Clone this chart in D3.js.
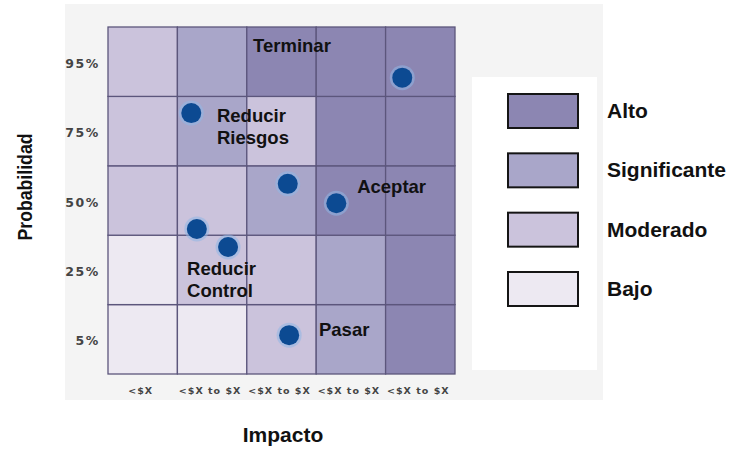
<!DOCTYPE html>
<html>
<head>
<meta charset="utf-8">
<script src="https://cdn.jsdelivr.net/npm/d3@7"></script>
<style>
  html, body { margin: 0; padding: 0; background: #ffffff; }
  svg { display: block; }
</style>
</head>
<body>
<svg id="chart" width="732" height="449"></svg>
<script>
// ---------------- data ----------------
const probLabels = ["5%", "25%", "50%", "75%", "95%"];           // bottom -> top
const impactLabels = ["<$X", "<$X to $X", "<$X to $X", "<$X to $X", "<$X to $X"];
const levels = ["Alto", "Significante", "Moderado", "Bajo"];
// level of each cell, rows from 5% (bottom) to 95% (top), columns left -> right
const cellRow5  = ["Bajo", "Bajo", "Moderado", "Significante", "Alto"];
const cellRow25 = ["Bajo", "Moderado", "Moderado", "Significante", "Alto"];
const cellRow50 = ["Moderado", "Moderado", "Significante", "Alto", "Alto"];
const cellRow75 = ["Moderado", "Significante", "Moderado", "Alto", "Alto"];
const cellRow95 = ["Moderado", "Significante", "Alto", "Alto", "Alto"];
// risk points (impact / probability in cell units, 0..5)
const riskImpact = [4.24, 1.20, 2.59, 3.29, 1.28, 1.73, 2.61];
const riskProb   = [4.27, 3.76, 2.74, 2.46, 2.09, 1.83, 0.56];
// strategy annotations
const noteText = [["Terminar"], ["Reducir", "Riesgos"], ["Aceptar"], ["Reducir", "Control"], ["Pasar"]];
const noteImpact = [2.09, 1.57, 3.59, 1.14, 3.04];
const noteProb   = [4.64, 3.63, 2.61, 1.43, 0.55];
const yTitle = "Probabilidad";
const xTitle = "Impacto";

// ---------------- styles ----------------
const levelColor = d3.scaleOrdinal()
  .domain(levels)
  .range(["#8c86b2", "#a9a6c9", "#cbc3dc", "#ede9f2"]);
const gridColor = "#5c567c";
const boldFont = "'Liberation Sans', Arial, sans-serif";
const tickFont = "'DejaVu Sans', Verdana, sans-serif";

const svg = d3.select("#chart");

// background panel + legend panel
svg.append("rect").attr("x", 65).attr("y", 4).attr("width", 538).attr("height", 396).attr("fill", "#f4f4f4");
svg.append("rect").attr("x", 472).attr("y", 77).attr("width", 125).attr("height", 293).attr("fill", "#ffffff");

// scales
const x = d3.scaleLinear().domain([0, 5]).range([108, 455]);
const y = d3.scaleLinear().domain([0, 5]).range([374, 27]);
const xBand = d3.scaleBand().domain(d3.range(5)).range([108, 455]);
const yBand = d3.scaleBand().domain(d3.range(5)).range([374, 27]);

// cells
const cellRows = [cellRow5, cellRow25, cellRow50, cellRow75, cellRow95];
const cells = [];
cellRows.forEach((row, r) => row.forEach((lvl, c) => cells.push({ r, c, lvl })));

svg.append("g").selectAll("rect").data(cells).join("rect")
  .attr("x", d => x(d.c))
  .attr("y", d => y(d.r + 1))
  .attr("width", d => x(d.c + 1) - x(d.c))
  .attr("height", d => y(d.r) - y(d.r + 1))
  .attr("fill", d => levelColor(d.lvl))
  .attr("stroke", gridColor)
  .attr("stroke-width", 1.3);

// axes
const xAxis = svg.append("g")
  .attr("transform", "translate(-2,374)")
  .call(d3.axisBottom(xBand).tickSize(0).tickPadding(13).tickFormat(i => impactLabels[i]));
xAxis.select(".domain").remove();
xAxis.selectAll("text")
  .attr("font-family", tickFont).attr("font-size", 9.5).attr("font-weight", "bold")
  .attr("letter-spacing", 1).attr("fill", "#444");

const yAxis = svg.append("g")
  .attr("transform", "translate(100,2)")
  .call(d3.axisLeft(yBand).tickSize(0).tickPadding(0).tickFormat(i => probLabels[i]));
yAxis.select(".domain").remove();
yAxis.selectAll("text")
  .attr("font-family", tickFont).attr("font-size", 12.5).attr("font-weight", "bold")
  .attr("letter-spacing", 1.6).attr("fill", "#444");

// points
const pts = riskImpact.map((v, i) => ({ ix: v, pr: riskProb[i] }));
svg.append("g").selectAll("circle").data(pts).join("circle")
  .attr("cx", d => x(d.ix)).attr("cy", d => y(d.pr)).attr("r", 12.5)
  .attr("fill", "#8fb6e6").attr("opacity", 0.55);
svg.append("g").selectAll("circle").data(pts).join("circle")
  .attr("cx", d => x(d.ix)).attr("cy", d => y(d.pr)).attr("r", 10)
  .attr("fill", "#0c4a92");

// annotations
const notes = noteText.map((t, i) => ({ t, ix: noteImpact[i], pr: noteProb[i] }));
const noteG = svg.append("g").selectAll("text").data(notes).join("text")
  .attr("x", d => x(d.ix)).attr("y", d => y(d.pr))
  .attr("font-family", boldFont).attr("font-size", 18.5).attr("font-weight", "bold")
  .attr("fill", "#111");
noteG.selectAll("tspan").data(d => d.t.map(s => ({ s, x: x(d.ix) }))).join("tspan")
  .attr("x", d => d.x).attr("dy", (d, i) => i === 0 ? 0 : 22)
  .text(d => d.s);

// legend
const legY = d3.scalePoint().domain(levels).range([94, 272]);
const leg = svg.append("g").selectAll("g").data(levels).join("g")
  .attr("transform", d => `translate(508,${legY(d)})`);
leg.append("rect").attr("width", 70).attr("height", 34)
  .attr("fill", d => levelColor(d)).attr("stroke", "#151515").attr("stroke-width", 2);
leg.append("text").attr("x", 99).attr("y", 24)
  .attr("font-family", boldFont).attr("font-size", 21).attr("font-weight", "bold")
  .attr("fill", "#111").text(d => d);

// axis titles
svg.append("text")
  .attr("transform", "translate(32,187) rotate(-90)")
  .attr("text-anchor", "middle")
  .attr("font-family", boldFont).attr("font-size", 21).attr("font-weight", "bold")
  .attr("textLength", 107).attr("lengthAdjust", "spacingAndGlyphs")
  .attr("fill", "#111").text(yTitle);
svg.append("text")
  .attr("x", 283).attr("y", 442)
  .attr("text-anchor", "middle")
  .attr("font-family", boldFont).attr("font-size", 21).attr("font-weight", "bold")
  .attr("fill", "#111").text(xTitle);
</script>
</body>
</html>
